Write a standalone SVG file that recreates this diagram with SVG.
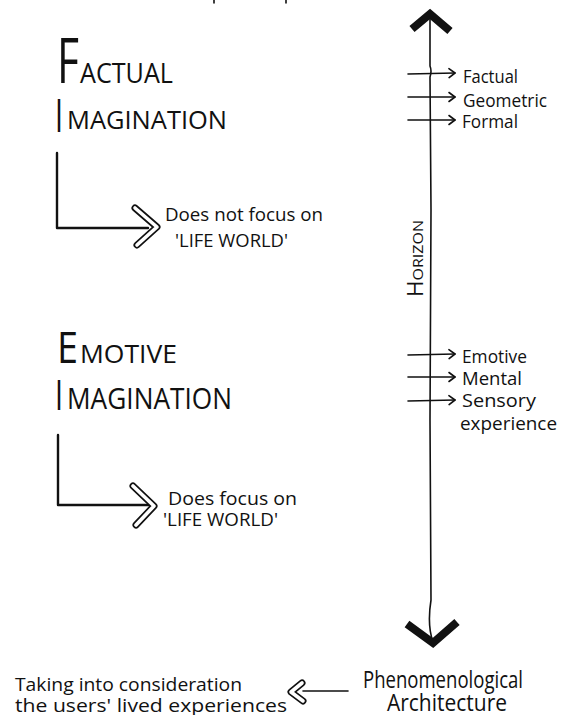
<svg xmlns="http://www.w3.org/2000/svg" width="564" height="715" viewBox="0 0 564 715">
  <style>
    text { font-family: "Open Sans", "Liberation Sans", sans-serif; fill: #111; }
    .ink { fill: none; stroke: #111; stroke-width: 1.6; stroke-linecap: round; stroke-linejoin: round; }
    .bold { fill: none; stroke: #111; stroke-width: 2.4; stroke-linecap: round; stroke-linejoin: round; }
    .head { fill: none; stroke: #111; stroke-width: 8; stroke-linecap: butt; stroke-linejoin: miter; }
    .hollow-out { fill: none; stroke: #111; stroke-width: 7; stroke-linecap: round; stroke-linejoin: round; }
    .hollow-in { fill: none; stroke: #fff; stroke-width: 3.6; stroke-linecap: round; stroke-linejoin: round; }
    .lbl { font-size: 18px; }
    .note { font-size: 19px; }
    .foot { font-size: 19px; }
  </style>
  <defs>
    <marker id="open" markerUnits="userSpaceOnUse" markerWidth="12" markerHeight="12" refX="10" refY="6" orient="auto">
      <path d="M4,1.5 L10,6 L4,10.5" fill="none" stroke="#111" stroke-width="1.6" stroke-linecap="round" stroke-linejoin="round"/>
    </marker>
  </defs>

  <rect width="564" height="715" fill="#fff"/>

  <!-- fragments at the top edge -->
  <path class="ink" d="M214,0 L214,3 M286,0 L286,3"/>

  <!-- connectors -->
  <g id="connectors">
    <!-- horizon axis -->
    <path class="ink" d="M430,16 L430,66 Q432,71 430,77 L431,210 L430,420 L431,600 Q427,625 433,642"/>
    <polyline class="head" points="412,29 430,14 450,31"/>
    <polyline class="head" points="407,624 433,643 457,622"/>

    <!-- factual branch -->
    <polyline class="bold" points="57,153 57,228 148,228"/>
    <polyline class="hollow-out" points="135,208 157,227 137,245"/>
    <polyline class="hollow-in" points="135,208 157,227 137,245"/>

    <!-- emotive branch -->
    <polyline class="bold" points="58,435 58,505 150,505"/>
    <polyline class="hollow-out" points="133,486 154,506 136,525"/>
    <polyline class="hollow-in" points="133,486 154,506 136,525"/>

    <!-- ticks crossing the axis -->
    <line class="ink" x1="408" y1="74" x2="455" y2="73" marker-end="url(#open)"/>
    <line class="ink" x1="408" y1="97" x2="455" y2="97" marker-end="url(#open)"/>
    <line class="ink" x1="408" y1="120" x2="455" y2="120" marker-end="url(#open)"/>
    <line class="ink" x1="408" y1="355" x2="455" y2="354" marker-end="url(#open)"/>
    <line class="ink" x1="408" y1="377" x2="455" y2="377" marker-end="url(#open)"/>
    <line class="ink" x1="408" y1="401" x2="455" y2="400" marker-end="url(#open)"/>

    <!-- phenomenological to lived experiences -->
    <line class="ink" x1="348" y1="691" x2="303" y2="691"/>
    <polyline class="hollow-out" stroke-width="6" points="302,683 291,692 303,701"/>
    <polyline class="hollow-in" stroke-width="2.6" points="302,683 291,692 303,701"/>
  </g>

  <!-- factual imagination -->
  <g id="factual-title">
    <text x="57" y="83" font-size="63" textLength="22" lengthAdjust="spacingAndGlyphs">F</text>
    <text x="80" y="83" font-size="28" textLength="93" lengthAdjust="spacingAndGlyphs">ACTUAL</text>
    <text x="55" y="132" font-size="46" textLength="8" lengthAdjust="spacingAndGlyphs">I</text>
    <text x="67" y="129" font-size="25" textLength="160" lengthAdjust="spacingAndGlyphs">MAGINATION</text>
  </g>
  <g id="factual-note">
    <text class="note" x="165" y="221" textLength="158" lengthAdjust="spacingAndGlyphs">Does not focus on</text>
    <text class="note" x="175" y="247" textLength="113" lengthAdjust="spacingAndGlyphs">'LIFE WORLD'</text>
  </g>

  <!-- emotive imagination -->
  <g id="emotive-title">
    <text x="57" y="363" font-size="43" textLength="21" lengthAdjust="spacingAndGlyphs">E</text>
    <text x="80" y="363" font-size="25" textLength="97" lengthAdjust="spacingAndGlyphs">MOTIVE</text>
    <text x="55" y="410" font-size="42" textLength="8" lengthAdjust="spacingAndGlyphs">I</text>
    <text x="67" y="409" font-size="29" textLength="165" lengthAdjust="spacingAndGlyphs">MAGINATION</text>
  </g>
  <g id="emotive-note">
    <text class="note" x="168" y="505" font-size="18" textLength="129" lengthAdjust="spacingAndGlyphs">Does focus on</text>
    <text class="note" x="163" y="526" font-size="18" textLength="115" lengthAdjust="spacingAndGlyphs">'LIFE WORLD'</text>
  </g>

  <!-- horizon label -->
  <g id="horizon">
    <text transform="translate(423,297) rotate(-90)" x="0" y="0" font-size="15" textLength="77" lengthAdjust="spacingAndGlyphs"><tspan font-size="21">H</tspan>ORIZON</text>
  </g>

  <!-- upper labels -->
  <g id="factual-labels">
    <text class="lbl" x="463" y="83" textLength="55" lengthAdjust="spacingAndGlyphs">Factual</text>
    <text class="lbl" x="463" y="107" textLength="84" lengthAdjust="spacingAndGlyphs">Geometric</text>
    <text class="lbl" x="462" y="128" textLength="56" lengthAdjust="spacingAndGlyphs">Formal</text>
  </g>

  <!-- lower labels -->
  <g id="emotive-labels">
    <text class="lbl" x="462" y="363" textLength="65" lengthAdjust="spacingAndGlyphs">Emotive</text>
    <text class="lbl" x="462" y="385" textLength="60" lengthAdjust="spacingAndGlyphs">Mental</text>
    <text class="lbl" x="462" y="407" textLength="74" lengthAdjust="spacingAndGlyphs">Sensory</text>
    <text class="lbl" x="460" y="430" textLength="97" lengthAdjust="spacingAndGlyphs">experience</text>
  </g>

  <!-- phenomenological architecture -->
  <g id="phenomenological">
    <text x="363" y="688" font-size="24" textLength="160" lengthAdjust="spacingAndGlyphs">Phenomenological</text>
    <text x="387" y="711" font-size="24" textLength="120" lengthAdjust="spacingAndGlyphs">Architecture</text>
  </g>

  <!-- lived experiences -->
  <g id="lived-experiences">
    <text class="foot" x="15" y="691" textLength="227" lengthAdjust="spacingAndGlyphs">Taking into consideration</text>
    <text class="foot" x="15" y="712" textLength="272" lengthAdjust="spacingAndGlyphs">the users' lived experiences</text>
  </g>
</svg>
